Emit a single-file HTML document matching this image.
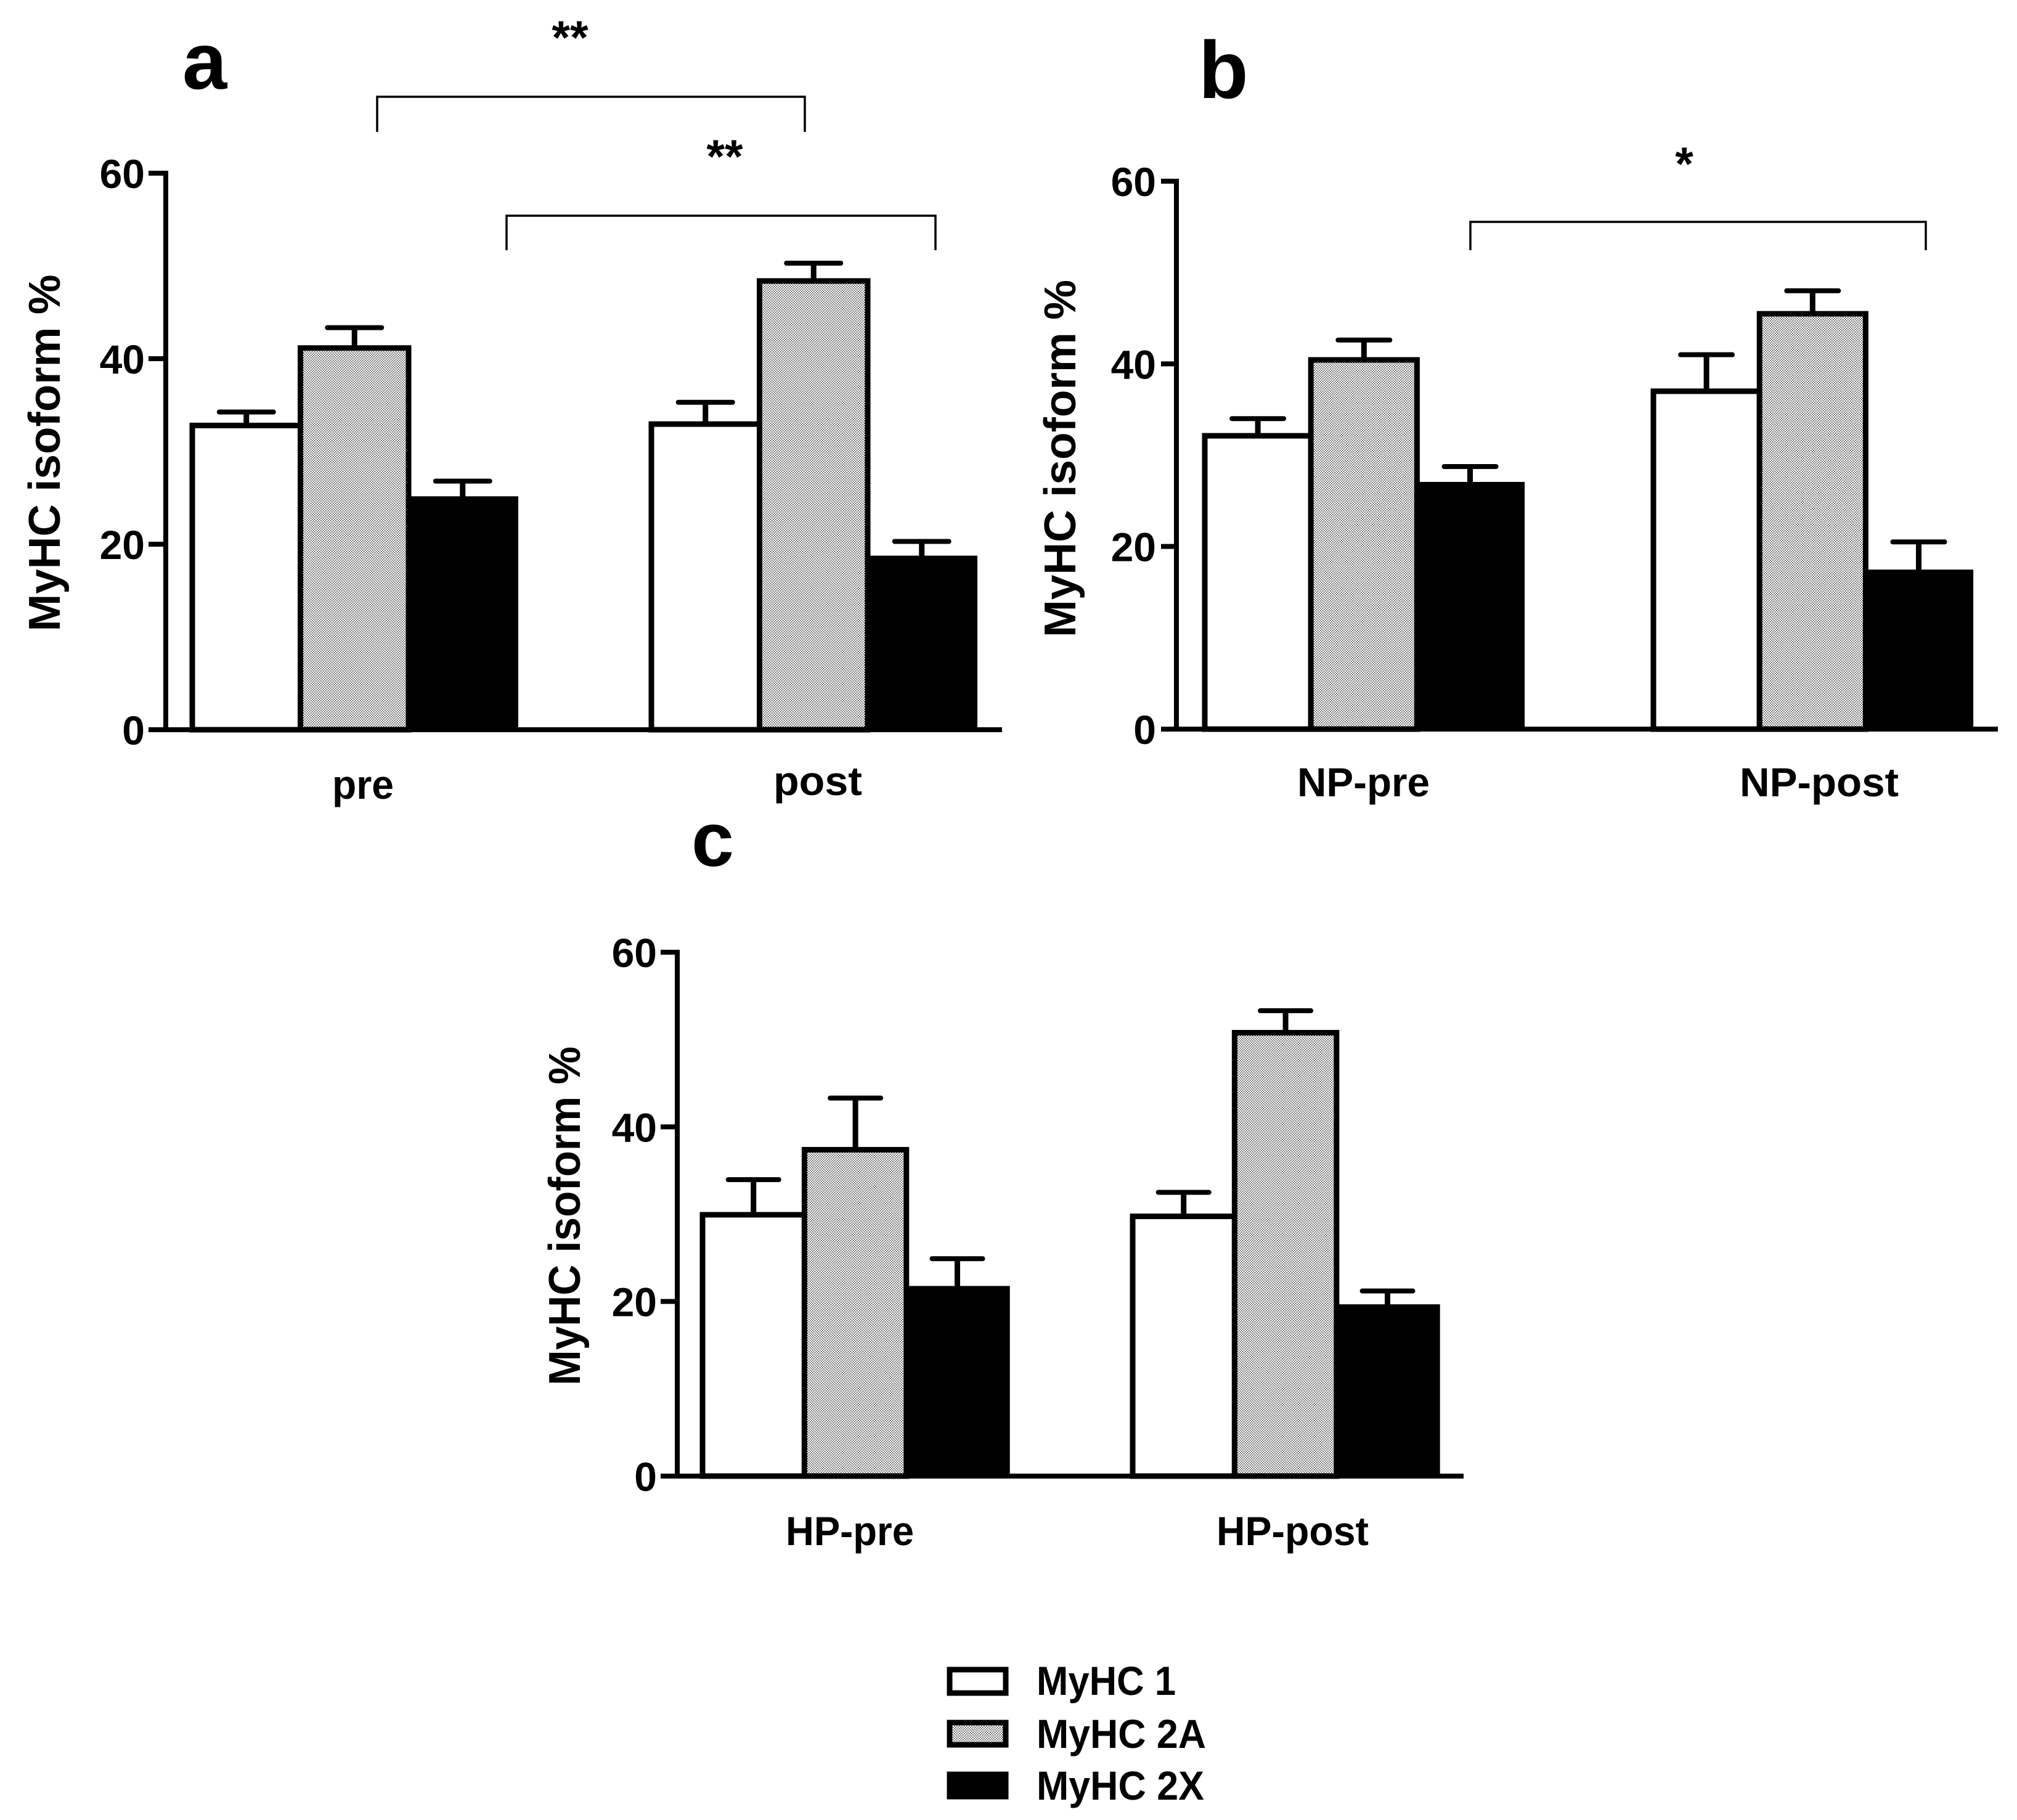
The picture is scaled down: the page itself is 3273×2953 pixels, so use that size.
<!DOCTYPE html>
<html lang="en">
<head>
<meta charset="utf-8">
<title>MyHC isoform percentages</title>
<style>
html,body{margin:0;padding:0;background:#fff;}
svg{display:block;}
text{font-family:"Liberation Sans",Arial,sans-serif;font-weight:bold;fill:#000;}
</style>
</head>
<body>
<svg id="figure" xmlns="http://www.w3.org/2000/svg" width="3273" height="2953" viewBox="0 0 3273 2953">
  <defs>
    <pattern id="stipple" patternUnits="userSpaceOnUse" width="4" height="4">
      <rect width="4" height="4" fill="#fff"/>
      <rect x="0" y="0" width="1.5" height="1.5" fill="#222"/>
      <rect x="2" y="2" width="1.5" height="1.5" fill="#222"/>
    </pattern>
  </defs>
  <rect width="3273" height="2953" fill="#fff"/>

  <text x="296" y="144" font-size="130">a</text>
  <text x="1945" y="159" font-size="132">b</text>
  <text x="1122" y="1405" font-size="124">c</text>

  <g>
    <path d="M612 214V157H1306V214" fill="none" stroke="#000" stroke-width="3.5"/>
    <text x="925" y="87" font-size="76" text-anchor="middle">**</text>
  </g>
  <g>
    <path d="M822 406V350H1518V406" fill="none" stroke="#000" stroke-width="3.5"/>
    <text x="1176" y="280" font-size="76" text-anchor="middle">**</text>
  </g>
  <g>
    <path d="M2386 406V360H3125V406" fill="none" stroke="#000" stroke-width="3.5"/>
    <text x="2733" y="292" font-size="76" text-anchor="middle">*</text>
  </g>

  <g>
    <g>
      <rect x="1541" y="2709" width="91" height="38" fill="#fff" stroke="#000" stroke-width="9"/>
      <text x="1682" y="2750" font-size="66" textLength="226" lengthAdjust="spacingAndGlyphs">MyHC 1</text>
    </g>
    <g>
      <rect x="1541" y="2795" width="91" height="36" fill="url(#stipple)" stroke="#000" stroke-width="9"/>
      <text x="1682" y="2836" font-size="66" textLength="275" lengthAdjust="spacingAndGlyphs">MyHC 2A</text>
    </g>
    <g>
      <rect x="1541" y="2879" width="91" height="36" fill="#000" stroke="#000" stroke-width="9"/>
      <text x="1682" y="2920" font-size="66" textLength="272" lengthAdjust="spacingAndGlyphs">MyHC 2X</text>
    </g>
  </g>
</svg>

<script>
// ---- chart data ----
const yTickLabels = [0, 20, 40, 60];
const seriesNames = ['myhc-1', 'myhc-2a', 'myhc-2x'];

const panelACategories = ['pre', 'post'];
const panelAMyhc1 = [32.8, 32.95];
const panelAMyhc2a = [41.15, 48.38];
const panelAMyhc2x = [25.0, 18.6];
const panelAErr1 = [1.45, 2.35];
const panelAErr2a = [2.2, 1.92];
const panelAErr2x = [1.8, 1.7];

const panelBCategories = ['NP-pre', 'NP-post'];
const panelBMyhc1 = [32.12, 37.0];
const panelBMyhc2a = [40.43, 45.48];
const panelBMyhc2x = [26.9, 17.3];
const panelBErr1 = [1.88, 4.0];
const panelBErr2a = [2.17, 2.52];
const panelBErr2x = [1.85, 3.2];

const panelCCategories = ['HP-pre', 'HP-post'];
const panelCMyhc1 = [29.93, 29.75];
const panelCMyhc2a = [37.38, 50.78];
const panelCMyhc2x = [21.6, 19.5];
const panelCErr1 = [4.02, 2.75];
const panelCErr2a = [5.92, 2.52];
const panelCErr2x = [3.3, 1.7];

// ---- drawing ----
const SVG_NS = 'http://www.w3.org/2000/svg';
const root = document.getElementById('figure');

function mk(parent, tag, attrs, txt) {
  const el = document.createElementNS(SVG_NS, tag);
  for (const k in attrs) el.setAttribute(k, attrs[k]);
  if (txt !== undefined) el.textContent = txt;
  parent.appendChild(el);
  return el;
}

function drawPanel(id, cfg, categories, values, errors) {
  const yScale = v => cfg.y0 + (cfg.y60 - cfg.y0) * v / 60;
  const xBar = (g, s) => cfg.groupStart + g * cfg.groupStep + s * cfg.barStep;

  const panel = mk(root, 'g', {});
  
  

  const fills = ['#fff', 'url(#stipple)', '#000'];
  const strokes = [9, 9, 5];
  categories.forEach((cat, g) => {
    values.forEach((series, s) => {
      const x = xBar(g, s);
      const cx = x + cfg.barStep / 2;
      const top = yScale(series[g]);
      const capY = yScale(series[g] + errors[s][g]);

      const stem = mk(panel, 'line', {x1: cx, x2: cx, y1: top, y2: capY, stroke: '#000', 'stroke-width': 9});
      
      

      const cap = mk(panel, 'line', {x1: cx - cfg.capHalf, x2: cx + cfg.capHalf, y1: capY, y2: capY, stroke: '#000', 'stroke-width': 8, 'stroke-linecap': 'round'});
      
      

      const bar = mk(panel, 'rect', {x: x, y: top, width: cfg.barStep, height: cfg.y0 - top, fill: fills[s], stroke: '#000', 'stroke-width': strokes[s]});
      
      
    });

    const label = mk(panel, 'text', {x: cfg.labelStart[g], y: cfg.labelBase[g], 'font-size': 66, textLength: cfg.labelLen[g], lengthAdjust: 'spacingAndGlyphs'}, cat);
    
    
  });

  const yAxis = mk(panel, 'line', {x1: cfg.axisX, x2: cfg.axisX, y1: yScale(60) - 4, y2: cfg.y0 + 4, stroke: '#000', 'stroke-width': 8});
  
  

  const xAxis = mk(panel, 'line', {x1: cfg.tickX, x2: cfg.axisEnd, y1: cfg.y0, y2: cfg.y0, stroke: '#000', 'stroke-width': 8});
  
  

  yTickLabels.forEach(t => {
    const tick = mk(panel, 'line', {x1: cfg.tickX, x2: cfg.axisX, y1: yScale(t), y2: yScale(t), stroke: '#000', 'stroke-width': 8});
    
    

    const lab = mk(panel, 'text', {x: cfg.tickLabelX, y: yScale(t) + 24, 'font-size': 66, 'text-anchor': 'end'}, String(t));
    
    
  });

  const title = mk(panel, 'text', {x: 0, y: 0, 'font-size': 72, 'text-anchor': 'middle', textLength: cfg.titleLen, lengthAdjust: 'spacingAndGlyphs', transform: 'translate(' + cfg.titleX + ' ' + cfg.titleY + ') rotate(-90)'}, 'MyHC isoform %');
  
  
}

drawPanel('a', {
  y0: 1184, y60: 281, axisX: 269, tickX: 241, axisEnd: 1626, tickLabelX: 235,
  groupStart: 312, groupStep: 745, barStep: 175.5, capHalf: 44,
  labelStart: [539, 1255], labelBase: [1296, 1290], labelLen: [100, 144],
  titleX: 97, titleY: 735, titleLen: 579
}, panelACategories, [panelAMyhc1, panelAMyhc2a, panelAMyhc2x], [panelAErr1, panelAErr2a, panelAErr2x]);

drawPanel('b', {
  y0: 1183, y60: 294, axisX: 1909, tickX: 1884, axisEnd: 3242, tickLabelX: 1876,
  groupStart: 1955, groupStep: 728, barStep: 172.2, capHalf: 42,
  labelStart: [2105, 2823], labelBase: [1292, 1292], labelLen: [215, 258],
  titleX: 1745, titleY: 744, titleLen: 580
}, panelBCategories, [panelBMyhc1, panelBMyhc2a, panelBMyhc2x], [panelBErr1, panelBErr2a, panelBErr2x]);

drawPanel('c', {
  y0: 2395, y60: 1545, axisX: 1099, tickX: 1072, axisEnd: 2375, tickLabelX: 1066,
  groupStart: 1140, groupStep: 698, barStep: 165.4, capHalf: 41,
  labelStart: [1275, 1974], labelBase: [2507, 2507], labelLen: [208, 247],
  titleX: 941, titleY: 1973, titleLen: 550
}, panelCCategories, [panelCMyhc1, panelCMyhc2a, panelCMyhc2x], [panelCErr1, panelCErr2a, panelCErr2x]);
</script>
</body>
</html>
